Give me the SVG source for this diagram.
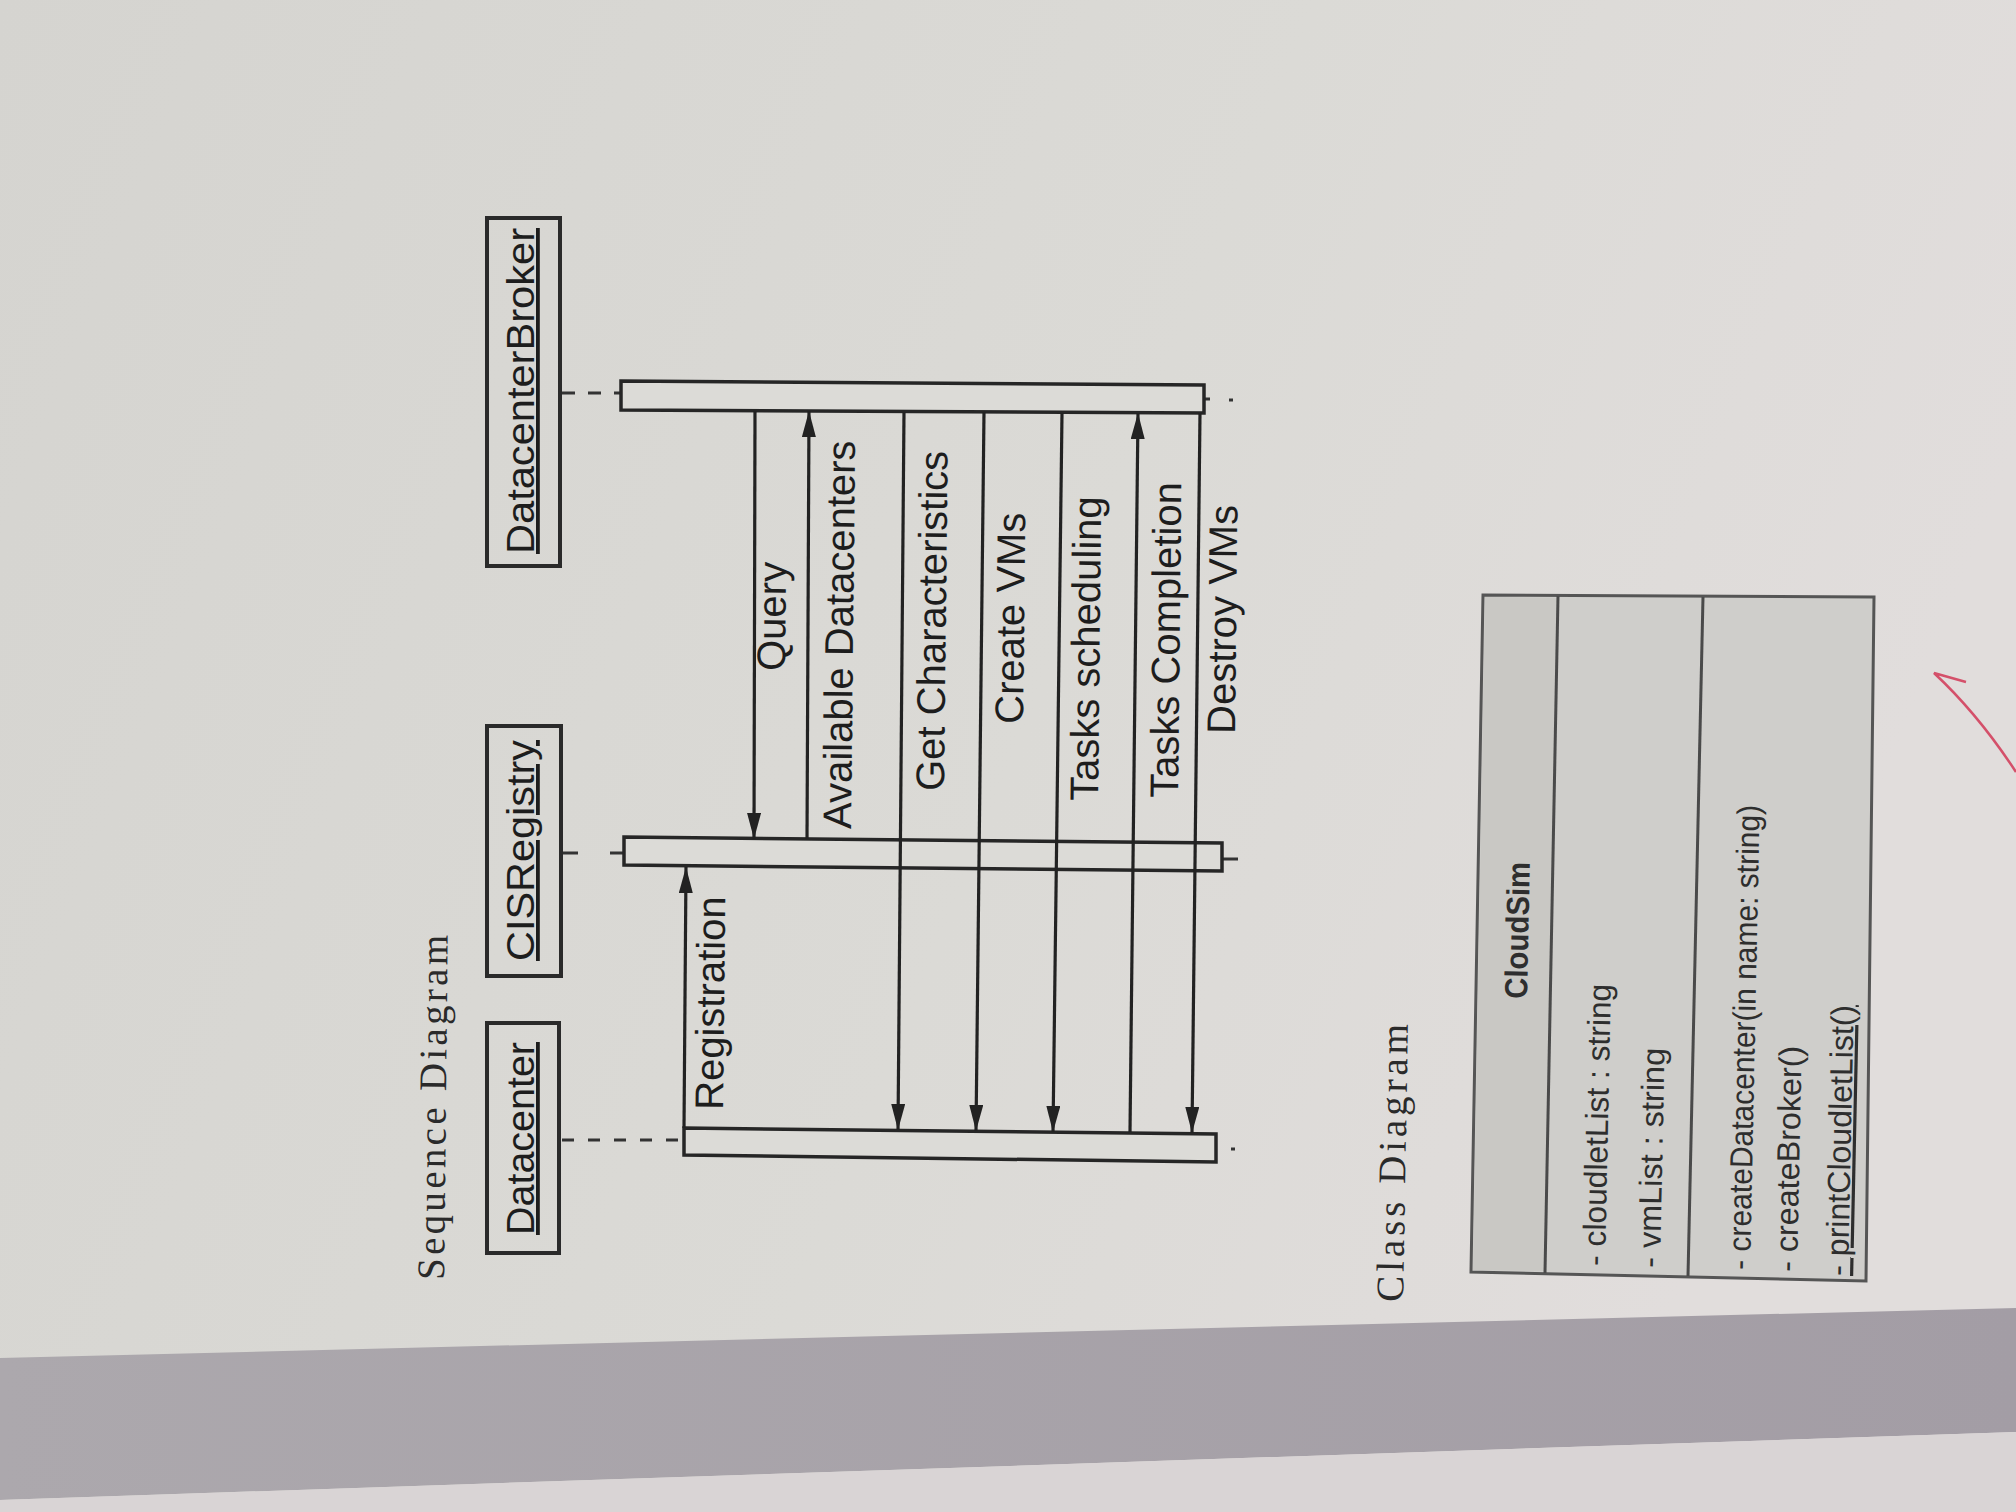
<svg xmlns="http://www.w3.org/2000/svg" width="2016" height="1512" viewBox="0 0 2016 1512">
  <defs>
    <linearGradient id="page" x1="0" y1="0" x2="1" y2="0.3">
      <stop offset="0" stop-color="#d5d4d0"/>
      <stop offset="0.6" stop-color="#dbdad6"/>
      <stop offset="1" stop-color="#e1dddc"/>
    </linearGradient>
    <linearGradient id="band" x1="0" y1="0" x2="1" y2="0">
      <stop offset="0" stop-color="#aca8ad"/>
      <stop offset="1" stop-color="#a39da5"/>
    </linearGradient>
    <marker id="ah" markerUnits="userSpaceOnUse" markerWidth="26" markerHeight="14" viewBox="0 0 26 14" refX="26" refY="7" orient="auto">
      <path d="M0,0 L26,7 L0,14 z" fill="#222"/>
    </marker>
    <style>
      .box { fill: none; stroke: #2a2a2a; stroke-width: 4; }
      .bar { fill: #dcdbd7; stroke: #262626; stroke-width: 3.5; }
      .life { stroke: #333; stroke-width: 3; fill: none; }
      .msg { stroke: #222; stroke-width: 3.2; fill: none; marker-end: url(#ah); }
      .lbl { font-family: "Liberation Sans", Arial, sans-serif; font-size: 40px; fill: #1d1d1d; }
      .obj { font-family: "Liberation Sans", Arial, sans-serif; font-size: 38px; fill: #1d1d1d; text-decoration: underline; }
      .title { font-family: "Liberation Serif", "Times New Roman", serif; font-size: 39px; fill: #2a2a2a; }
      .cls { fill: #cfcecb; stroke: #555; stroke-width: 3; }
      .clsline { stroke: #4a4a4a; stroke-width: 3; fill: none; }
      .mem { font-family: "Liberation Sans", Arial, sans-serif; font-size: 32px; fill: #2e2e2e; }
    </style>
  </defs>

  <!-- page background -->
  <rect x="0" y="0" width="2016" height="1512" fill="url(#page)"/>
  <polygon points="0,1358 2016,1308 2016,1432 0,1500" fill="url(#band)"/>
  <polygon points="0,1500 2016,1432 2016,1512 0,1512" fill="#d9d4d5"/>

  <!-- Sequence diagram title -->
  <g id="title-sequence">
    <text class="title" transform="translate(444,1280) rotate(-89.4)" textLength="345" lengthAdjust="spacing">Sequence Diagram</text>
  </g>

  <!-- lifeline objects -->
  <g id="node-datacenter">
    <rect class="box" x="487" y="1023" width="72" height="230"/>
    <text class="obj" transform="translate(534,1235) rotate(-90)" textLength="193" lengthAdjust="spacingAndGlyphs">Datacenter</text>
  </g>
  <g id="node-cisregistry">
    <rect class="box" x="487" y="726" width="74" height="250"/>
    <text class="obj" transform="translate(534,961) rotate(-90)" textLength="221" lengthAdjust="spacingAndGlyphs">CISRegistry</text>
  </g>
  <g id="node-broker">
    <rect class="box" x="487" y="218" width="73" height="348"/>
    <text class="obj" transform="translate(534,554) rotate(-90)" textLength="326" lengthAdjust="spacingAndGlyphs">DatacenterBroker</text>
  </g>

  <!-- lifelines and activation bars -->
  <g id="lifelines">
    <line class="life" x1="562" y1="393" x2="621" y2="393" stroke-dasharray="13 13"/>
    <line class="life" x1="563" y1="853" x2="578" y2="853"/>
    <line class="life" x1="610" y1="853" x2="624" y2="853"/>
    <line class="life" x1="562" y1="1140" x2="684" y2="1140" stroke-dasharray="12 14"/>
    <line class="life" x1="1205" y1="399" x2="1210" y2="399"/>
    <line class="life" x1="1229" y1="400" x2="1233" y2="400"/>
    <line class="life" x1="1222" y1="859" x2="1238" y2="859"/>
    <line class="life" x1="1231" y1="1149" x2="1235" y2="1149"/>
  </g>
  <g id="activation-broker">
    <polygon class="bar" points="621,381 1204,385 1204,413 621,410"/>
  </g>
  <g id="activation-cisregistry">
    <polygon class="bar" points="624,837 1222,843 1222,871 624,865"/>
  </g>
  <g id="activation-datacenter">
    <polygon class="bar" points="684,1128 1216,1134 1216,1162 684,1155"/>
  </g>

  <!-- messages -->
  <g id="connectors">
    <path class="msg" d="M684,1128 L686,867"/>
    <path class="msg" d="M755,411 L754,839"/>
    <path class="msg" d="M807,839 L809,411"/>
    <path class="msg" d="M904,412 L898,1130"/>
    <path class="msg" d="M984,412 L976,1131"/>
    <path class="msg" d="M1062,413 L1053,1132"/>
    <path class="msg" d="M1130,1132 L1138,413"/>
    <path class="msg" d="M1200,413 L1192,1133"/>
  </g>
  <g id="connector-labels">
    <text class="lbl" transform="translate(723,1110) rotate(-89.4)">Registration</text>
    <text class="lbl" transform="translate(785,671) rotate(-89.4)">Query</text>
    <text class="lbl" transform="translate(851,829) rotate(-89.4)">Available Datacenters</text>
    <text class="lbl" transform="translate(944,791) rotate(-89.4)">Get Characteristics</text>
    <text class="lbl" transform="translate(1023,724) rotate(-89.4)">Create VMs</text>
    <text class="lbl" transform="translate(1098,801) rotate(-89.4)">Tasks scheduling</text>
    <text class="lbl" transform="translate(1178,798) rotate(-89.4)">Tasks Completion</text>
    <text class="lbl" transform="translate(1235,734) rotate(-89.4)">Destroy VMs</text>
  </g>

  <!-- Class diagram -->
  <g id="title-class">
    <text class="title" transform="translate(1403,1302) rotate(-89)" textLength="278" lengthAdjust="spacing">Class Diagram</text>
  </g>
  <g id="class-cloudsim">
    <polygon class="cls" points="1483,595 1874,597 1866,1281 1471,1272"/>
    <polygon points="1485,597 1557,598 1544,1271 1473,1270" fill="#c9c8c4"/>
    <line class="clsline" x1="1558" y1="596" x2="1545" y2="1273"/>
    <line class="clsline" x1="1703" y1="597" x2="1688" y2="1276"/>
    <text class="mem" font-weight="bold" font-size="36" transform="translate(1527,999) rotate(-88.8)" textLength="137" lengthAdjust="spacingAndGlyphs">CloudSim</text>
    <text class="mem" transform="translate(1605,1266) rotate(-88.8)" textLength="282" lengthAdjust="spacingAndGlyphs">- cloudletList : string</text>
    <text class="mem" transform="translate(1660,1268) rotate(-88.8)" textLength="220" lengthAdjust="spacingAndGlyphs">- vmList : string</text>
    <text class="mem" transform="translate(1750,1270) rotate(-88.8)" textLength="465" lengthAdjust="spacingAndGlyphs">- createDatacenter(in name: string)</text>
    <text class="mem" transform="translate(1797,1272) rotate(-88.8)" textLength="226" lengthAdjust="spacingAndGlyphs">- createBroker()</text>
    <text class="mem" transform="translate(1848,1276) rotate(-88.8)" textLength="271" lengthAdjust="spacingAndGlyphs" text-decoration="underline">- printCloudletList()</text>
  </g>

  <!-- red tick mark -->
  <path d="M1966,682 L1934,673 Q1978,714 2016,772" fill="none" stroke="#d4506a" stroke-width="2.5"/>
</svg>
